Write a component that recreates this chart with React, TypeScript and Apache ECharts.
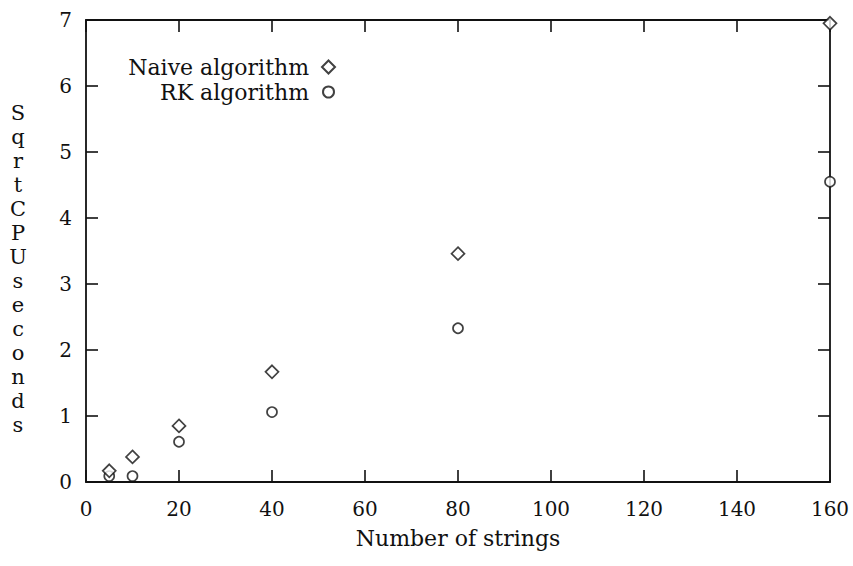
import React, { useEffect, useRef } from "react";
import * as echarts from "echarts";

const naiveX = [5, 10, 20, 40, 80, 160];
const naiveY = [0.17, 0.38, 0.85, 1.67, 3.46, 6.95];
const rkX = [5, 10, 20, 40, 80, 160];
const rkY = [0.09, 0.09, 0.61, 1.06, 2.33, 4.55];
const seriesNames = ["Naive algorithm", "RK algorithm"];
const xTitle = "Number of strings";
const yTitleLetters = ["S", "q", "r", "t", "C", "P", "U", "s", "e", "c", "o", "n", "d", "s"];

const FONT = "DejaVu Serif";
const INK = "#111111";

export default function App() {
  const ref = useRef<HTMLDivElement>(null);
  useEffect(() => {
    if (!ref.current) return;
    const chart = echarts.init(ref.current, null, { renderer: "svg" });
    const axisCommon = {
      type: "value" as const,
      axisLine: { show: true, onZero: false, lineStyle: { color: INK, width: 1.8 } },
      axisTick: { show: true, inside: true, length: 12, lineStyle: { color: INK, width: 1.6 } },
      splitLine: { show: false },
    };
    const itemStyle = { color: "#ffffff", borderColor: INK, borderWidth: 1.7 };
    chart.setOption({
      animation: false,
      backgroundColor: "#ffffff",
      grid: { left: 86, right: 23, top: 20, bottom: 84, containLabel: false },
      xAxis: [
        {
          ...axisCommon,
          position: "bottom",
          min: 0,
          max: 160,
          interval: 20,
          name: xTitle,
          nameLocation: "middle",
          nameGap: 45,
          nameTextStyle: { fontFamily: FONT, fontSize: 22, color: INK },
          axisLabel: { fontFamily: FONT, fontSize: 20, color: INK, margin: 17 },
        },
        {
          ...axisCommon,
          position: "top",
          min: 0,
          max: 160,
          interval: 20,
          axisLabel: { show: false },
        },
      ],
      yAxis: [
        {
          ...axisCommon,
          position: "left",
          min: 0,
          max: 7,
          interval: 1,
          axisLabel: { fontFamily: FONT, fontSize: 20, color: INK, margin: 14 },
        },
        {
          ...axisCommon,
          position: "right",
          min: 0,
          max: 7,
          interval: 1,
          axisLabel: { show: false },
        },
      ],
      legend: [
        {
          data: [{ name: seriesNames[0], icon: "diamond" }],
          orient: "vertical",
          align: "right",
          right: 512,
          top: 51,
          itemWidth: 13,
          itemHeight: 13,
          textStyle: { fontFamily: FONT, fontSize: 22, color: INK, padding: [0, 8, 0, 0] },
          selectedMode: false,
        },
        {
          data: [{ name: seriesNames[1], icon: "circle" }],
          orient: "vertical",
          align: "right",
          right: 513,
          top: 76,
          itemWidth: 11,
          itemHeight: 11,
          textStyle: { fontFamily: FONT, fontSize: 22, color: INK, padding: [0, 9, 0, 0] },
          selectedMode: false,
        },
      ],
      graphic: [
        {
          type: "text",
          x: 18,
          y: 269,
          style: {
            text: yTitleLetters.join("\n"),
            fontFamily: FONT,
            fontSize: 21,
            lineHeight: 24,
            fill: INK,
            align: "center",
            verticalAlign: "middle",
          },
        },
      ],
      series: [
        {
          name: seriesNames[0],
          type: "scatter",
          symbol: "diamond",
          symbolSize: 13,
          clip: false,
          itemStyle,
          data: naiveX.map((x, i) => [x, naiveY[i]]),
          z: 5,
        },
        {
          name: seriesNames[1],
          type: "scatter",
          symbol: "circle",
          symbolSize: 10,
          clip: false,
          itemStyle,
          data: rkX.map((x, i) => [x, rkY[i]]),
          z: 4,
        },
      ],
    });
    return () => chart.dispose();
  }, []);
  return <div ref={ref} style={{ width: 853, height: 566, position: "absolute", left: 0, top: 0 }} />;
}
